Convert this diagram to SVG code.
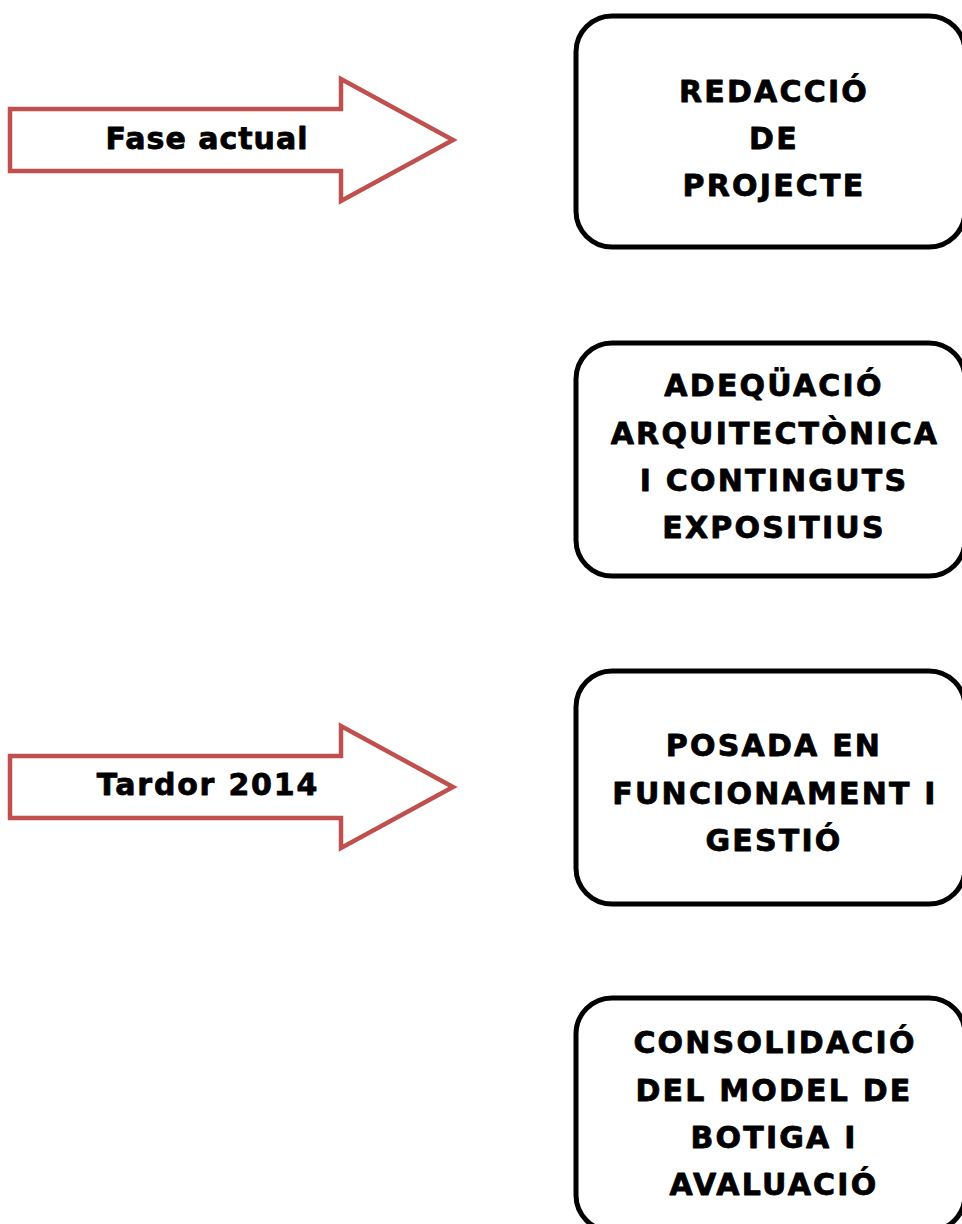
<svg xmlns="http://www.w3.org/2000/svg" width="962" height="1224" viewBox="0 0 962 1224">
<style>
.box{fill:#fff;stroke:#000;stroke-width:5}
.arr{fill:#fff;stroke:#C0504D;stroke-width:4.5;stroke-linejoin:miter}
text{font-family:"DejaVu Sans","Verdana",sans-serif;font-weight:bold;font-size:30px;fill:#000;stroke:#000;stroke-width:0.8;stroke-linejoin:round;text-anchor:middle}
.bt{letter-spacing:2.2px}
.a1{letter-spacing:1px}
.a2{letter-spacing:1.8px}
</style>
<rect width="962" height="1224" fill="#fff" stroke="none"/>
<g id="connectors">
<g id="arrow1">
<polygon class="arr" points="10,109 341,109 341,79 453,140 341,201 341,171 10,171"/>
<text class="a1" x="207" y="149">Fase actual</text>
</g>
<g id="arrow2">
<polygon class="arr" points="10,756 341,756 341,726 453,787 341,848 341,818 10,818"/>
<text class="a2" x="208" y="795">Tardor 2014</text>
</g>
</g>
<g id="node1">
<rect class="box" x="576" y="16" width="389" height="231" rx="36"/>
<text class="bt" x="774" y="102">REDACCIÓ</text>
<text class="bt" x="774" y="149">DE</text>
<text class="bt" x="774" y="196">PROJECTE</text>
</g>
<g id="node2">
<rect class="box" x="576" y="343" width="389" height="233" rx="36"/>
<text class="bt" x="774" y="396">ADEQÜACIÓ</text>
<text class="bt" x="775" y="444">ARQUITECTÒNICA</text>
<text class="bt" x="774" y="491">I CONTINGUTS</text>
<text class="bt" x="774" y="538">EXPOSITIUS</text>
</g>
<g id="node3">
<rect class="box" x="576" y="671" width="389" height="233" rx="36"/>
<text class="bt" x="774" y="756">POSADA EN</text>
<text class="bt" x="775" y="804">FUNCIONAMENT I</text>
<text class="bt" x="774" y="851">GESTIÓ</text>
</g>
<g id="node4">
<rect class="box" x="576" y="998" width="389" height="233" rx="36"/>
<text class="bt" x="775" y="1053">CONSOLIDACIÓ</text>
<text class="bt" x="774" y="1101">DEL MODEL DE</text>
<text class="bt" x="774" y="1148">BOTIGA I</text>
<text class="bt" x="774" y="1195">AVALUACIÓ</text>
</g>
</svg>
